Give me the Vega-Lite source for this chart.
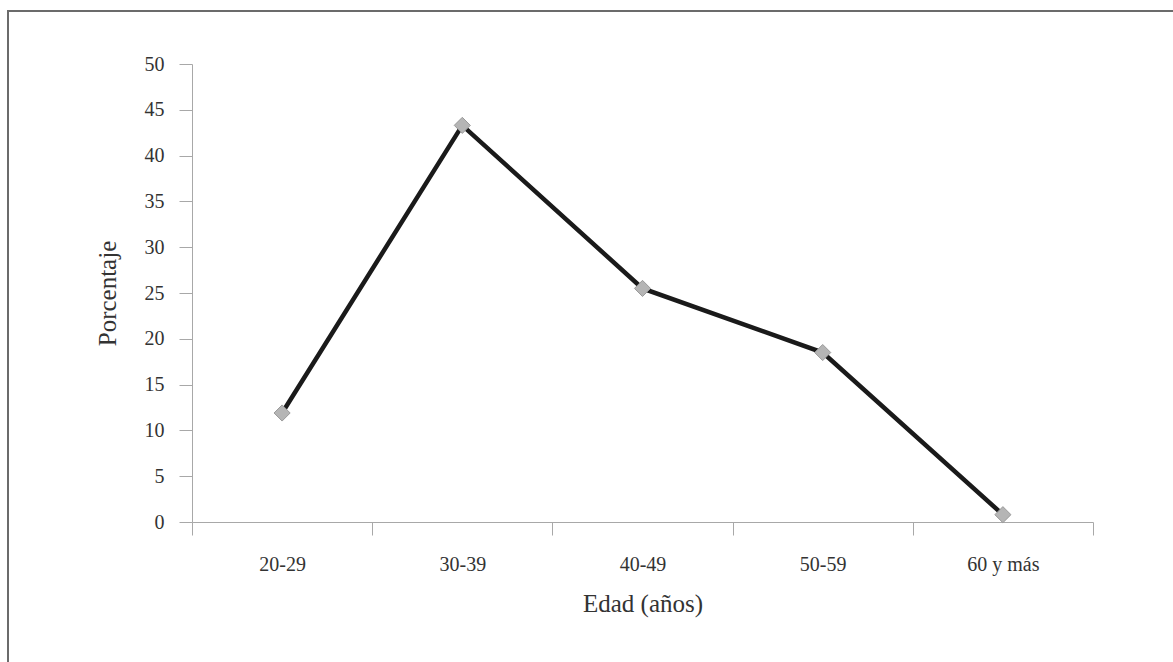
{
  "$schema": "https://vega.github.io/schema/vega-lite/v6.json",
  "autosize": {"type": "none"},
  "padding": {"left": 8, "top": 11, "right": 0, "bottom": 0},
  "width": 1200,
  "height": 700,
  "background": "white",
  "config": {
    "view": {"stroke": "#6b6b6b", "strokeWidth": 2},
    "font": "Liberation Serif"
  },
  "data": {
    "values": [
      {"edad": "20-29", "porcentaje": 11.9},
      {"edad": "30-39", "porcentaje": 43.3},
      {"edad": "40-49", "porcentaje": 25.5},
      {"edad": "50-59", "porcentaje": 18.5},
      {"edad": "60 y más", "porcentaje": 0.8}
    ]
  },
  "encoding": {
    "x": {
      "field": "edad",
      "type": "nominal",
      "sort": null,
      "bandPosition": 0.5,
      "scale": {"type": "band", "range": [184, 1085], "paddingInner": 0, "paddingOuter": 0},
      "axis": {
        "orient": "bottom",
        "offset": -189,
        "title": "Edad (años)",
        "labelAngle": 0,
        "tickBand": "extent",
        "tickSize": 13,
        "tickColor": "#a8a8a8",
        "domainColor": "#a8a8a8",
        "labelFont": "Liberation Serif",
        "labelFontSize": 20,
        "labelColor": "#333333",
        "labelPadding": 19,
        "titleFont": "Liberation Serif",
        "titleFontSize": 25,
        "titleFontWeight": "normal",
        "titleColor": "#333333",
        "titlePadding": 17
      }
    },
    "y": {
      "field": "porcentaje",
      "type": "quantitative",
      "scale": {"domain": [0, 50], "range": [511, 53], "nice": false, "zero": true},
      "axis": {
        "orient": "left",
        "offset": -184,
        "title": "Porcentaje",
        "values": [0, 5, 10, 15, 20, 25, 30, 35, 40, 45, 50],
        "grid": false,
        "tickSize": 13,
        "tickColor": "#a8a8a8",
        "domainColor": "#a8a8a8",
        "labelFont": "Liberation Serif",
        "labelFontSize": 20,
        "labelColor": "#333333",
        "labelPadding": 15,
        "titleFont": "Liberation Serif",
        "titleFontSize": 25,
        "titleFontWeight": "normal",
        "titleColor": "#333333",
        "titlePadding": 24
      }
    }
  },
  "layer": [
    {
      "mark": {"type": "line", "color": "#1a1a1a", "strokeWidth": 4.5}
    },
    {
      "mark": {"type": "point", "shape": "diamond", "filled": true, "size": 260, "fill": "#b5b5b5", "stroke": "#9a9a9a", "strokeWidth": 1, "opacity": 1}
    }
  ]
}
